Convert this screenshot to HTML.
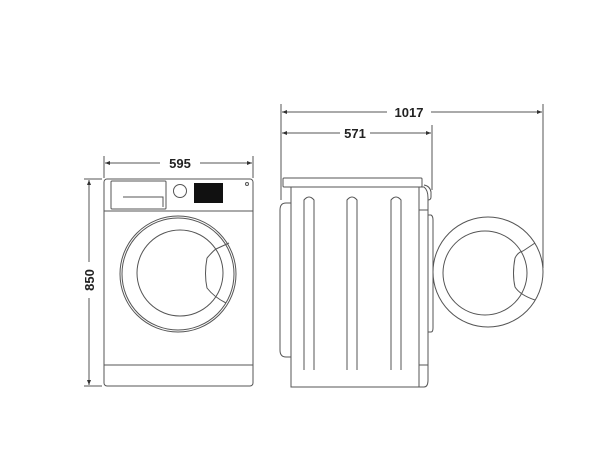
<!DOCTYPE html>
<html><head><style>
html,body{margin:0;padding:0;background:#fff;}
svg{display:block;}
text{font-family:"Liberation Sans",sans-serif;font-weight:bold;font-size:13px;fill:#222;}
</style></head><body>
<svg width="600" height="469" viewBox="0 0 600 469" xmlns="http://www.w3.org/2000/svg">
<defs>
<marker id="a" viewBox="0 0 10 10" refX="10" refY="5" markerWidth="7" markerHeight="5" orient="auto-start-reverse"><path d="M0,1 L10,5 L0,9 z" fill="#333"/></marker>
</defs>
<rect x="194" y="183" width="29" height="20" fill="#111"/>
<g stroke="#555" stroke-width="1" fill="none">
<line x1="104" y1="156" x2="104" y2="178"/>
<line x1="253" y1="156" x2="253" y2="178"/>
<line x1="105" y1="163" x2="160" y2="163" marker-start="url(#a)"/>
<line x1="200" y1="163" x2="252" y2="163" marker-end="url(#a)"/>
<line x1="84" y1="179" x2="102" y2="179"/>
<line x1="84" y1="386" x2="102" y2="386"/>
<line x1="89" y1="180" x2="89" y2="262" marker-start="url(#a)"/>
<line x1="89" y1="298" x2="89" y2="385" marker-end="url(#a)"/>
<rect x="104" y="179" width="149" height="207" rx="3"/>
<line x1="104" y1="211" x2="253" y2="211"/>
<line x1="104" y1="365" x2="253" y2="365"/>
<rect x="111" y="181" width="55" height="28" rx="1"/>
<path d="M123,197 H163 V207"/>
<circle cx="180" cy="191" r="6.5"/>
<circle cx="247" cy="184" r="1.5"/>
<circle cx="178" cy="274" r="58"/>
<circle cx="178" cy="274" r="56"/>
<circle cx="180" cy="273" r="43"/>
<path d="M216,249 L229,243 M207,258 Q214,250 216,249 M207,258 Q204,274 207,288 Q214,297 226,303"/>
<line x1="281" y1="104" x2="281" y2="200"/>
<line x1="543" y1="104" x2="543" y2="268"/>
<line x1="432" y1="125" x2="432" y2="190"/>
<line x1="282" y1="112" x2="387" y2="112" marker-start="url(#a)"/>
<line x1="431" y1="112" x2="542" y2="112" marker-end="url(#a)"/>
<line x1="282" y1="133" x2="340" y2="133" marker-start="url(#a)"/>
<line x1="370" y1="133" x2="431" y2="133" marker-end="url(#a)"/>
<rect x="283" y="178" width="139" height="9" rx="1"/>
<rect x="291" y="187" width="128" height="200"/>
<path d="M291,203 H286 Q280,203 280,210 V350 Q280,357 286,357 H291"/>
<path d="M419,187 H424 Q428,190 428,198 V380 Q428,387 424,387 H419"/>
<path d="M424,185 Q430,186 431,192 V197 Q431,200 428,200"/>
<path d="M428,215 H431 Q433,216 433,220 V328 Q433,332 431,332 H428"/>
<line x1="419" y1="210" x2="428" y2="210"/>
<line x1="419" y1="365" x2="428" y2="365"/>
<path d="M304,370 V200 Q309,194 314,200 V370"/>
<path d="M347,370 V200 Q352,194 357,200 V370"/>
<path d="M391,370 V200 Q396,194 401,200 V370"/>
<circle cx="488" cy="272" r="55"/>
<circle cx="485" cy="273" r="42"/>
<path d="M523,251 L535,243 M515,258 Q518,252 523,251 M515,258 Q512,274 515,287 Q520,295 535,300"/>
</g>
<text x="180" y="168" text-anchor="middle">595</text>
<text transform="translate(94,280) rotate(-90)" text-anchor="middle">850</text>
<text x="409" y="117" text-anchor="middle">1017</text>
<text x="355" y="138" text-anchor="middle">571</text>
</svg>
</body></html>
